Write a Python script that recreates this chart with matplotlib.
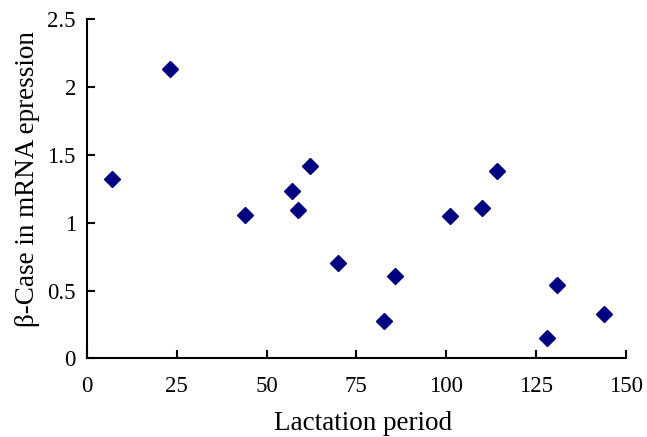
import matplotlib
matplotlib.use("Agg")
import matplotlib.pyplot as plt

# lactation day vs relative expression
lactation_days = [7.0, 23.0, 44.0, 57.0, 58.8, 62.1, 70.0, 82.6, 85.9, 101.1, 110.1, 114.1, 128.0, 130.8, 144.1]
casein_expr = [1.32, 2.13, 1.06, 1.23, 1.09, 1.42, 0.70, 0.275, 0.61, 1.05, 1.11, 1.38, 0.152, 0.538, 0.329]

xticks = [0, 25, 50, 75, 100, 125, 150]
yticks = [0, 0.5, 1, 1.5, 2, 2.5]
ytick_labels = ["0", "0.5", "1", "1.5", "2", "2.5"]

plt.rcParams['font.family'] = ['Liberation Serif', 'DejaVu Serif']

fig = plt.figure(figsize=(6.47, 4.37), dpi=100)
ax = fig.add_axes([0.1345, 0.180, 0.8325, 0.776])

ax.plot(lactation_days, casein_expr, linestyle='none', marker='D',
        markersize=8, color='#000080', clip_on=False)

ax.set_xlim(0, 150)
ax.set_ylim(0, 2.5)
ax.set_xticks(xticks)
ax.set_yticks(yticks)
ax.set_yticklabels(ytick_labels)

for side in ['top', 'right']:
    ax.spines[side].set_visible(False)
for side in ['left', 'bottom']:
    ax.spines[side].set_linewidth(1.5)

ax.tick_params(direction='in', length=6, width=1.5, labelsize=16.5)
ax.tick_params(axis='x', pad=13)
ax.tick_params(axis='y', pad=8)

# the original crops the descenders; keep the label just inside the frame
ax.set_xlabel("Lactation period", fontsize=19.5, labelpad=9.5, x=0.512)
ax.set_ylabel("β-Case in mRNA epression", fontsize=19.5, labelpad=5, y=0.53)

fig.savefig("out.png", dpi=100)
